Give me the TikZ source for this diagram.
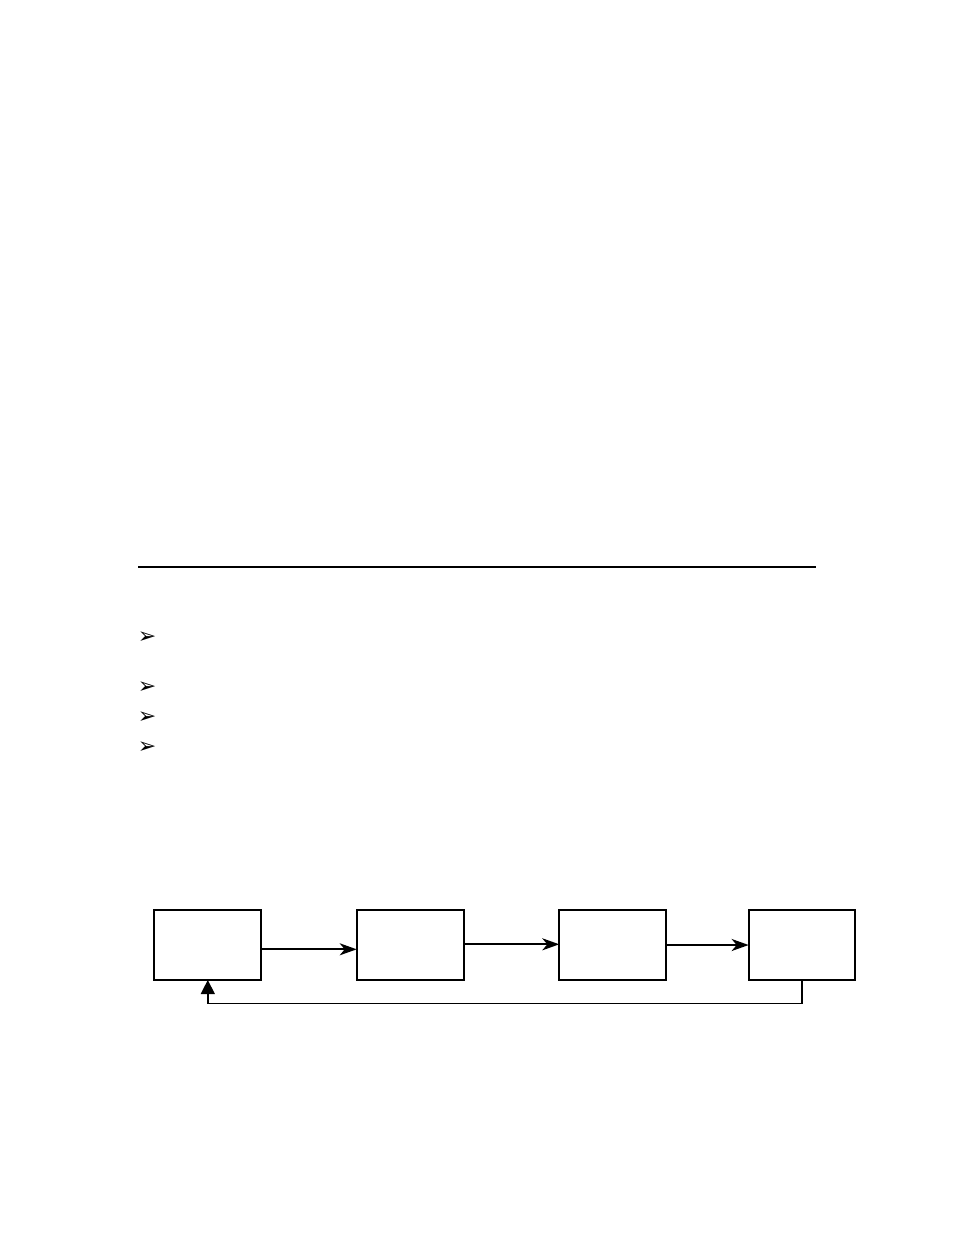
\documentclass[tikz,border=0pt]{standalone}
\usepackage{fontspec}
\newfontfamily\symfont{DejaVu Sans}
\usetikzlibrary{arrows.meta}
\begin{document}
\begin{tikzpicture}[x=1pt,y=-1pt,
  blockbox/.style={draw=black,line width=2pt,minimum width=107pt,minimum height=70pt,inner sep=0pt,outer sep=0pt},
  conn/.style={draw=black,line width=2pt,-{Stealth[length=17pt,width=12pt,inset=5pt]}},
  fb/.style={draw=black,line width=1.4pt,-{Triangle[length=14pt,width=14pt]}},
  rulel/.style={draw=black,line width=2pt},
  bulletmark/.style={inner sep=0pt,font=\symfont\fontsize{22}{22}\selectfont}]
\useasboundingbox[fill=white] (0,0) rectangle (954,1235);
% horizontal rule
\coordinate (rl) at (138,566.7);
\coordinate (rr) at (815.7,566.7);
\draw[rulel] (rl) -- (rr);
% bullets
\node[bulletmark] (m1) at (147,638) {➢};
\node[bulletmark] (m2) at (147,688) {➢};
\node[bulletmark] (m3) at (147,718) {➢};
\node[bulletmark] (m4) at (147,748) {➢};
% blocks
\node[blockbox] (b1) at (207.8,945) {};
\node[blockbox] (b2) at (410.2,945) {};
\node[blockbox] (b3) at (612.8,945) {};
\node[blockbox,minimum width=106.3pt] (b4) at (801.8,945) {};
% connectors
\draw[conn] (b1.east |- 0,949.3) -- (b2.west |- 0,949.3);
\draw[conn] (b2.east |- 0,944.3) -- (b3.west |- 0,944.3);
\draw[conn] (b3.east |- 0,945) -- (b4.west |- 0,945);
% feedback
\coordinate (fbc) at (801.8,1003.7);
\draw[fb] (b4.south) -- (fbc) -| (b1.south);
\end{tikzpicture}
\end{document}
